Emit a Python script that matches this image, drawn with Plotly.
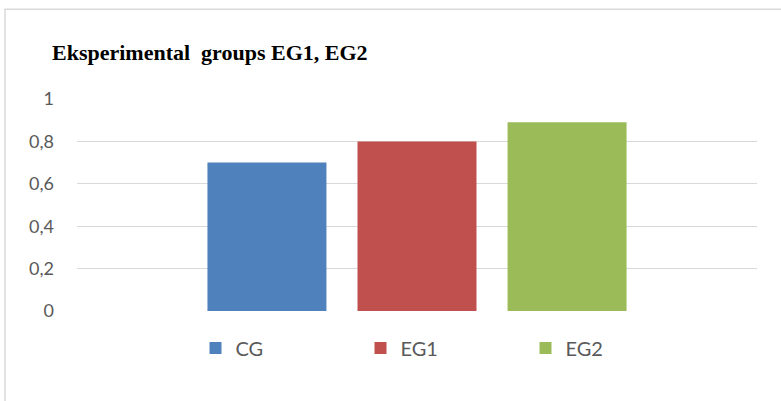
import plotly.graph_objects as go

series = ["CG", "EG1", "EG2"]
values = [0.70, 0.80, 0.89]
colors = ["#4F81BD", "#C0504D", "#9BBB59"]
category = [""]
tick_vals = [0, 0.2, 0.4, 0.6, 0.8, 1]
tick_text = ["0", "0,2", "0,4", "0,6", "0,8", "1"]

W, H = 781, 401
L, R, T, B = 77, 24, 98.5, 90
pw = W - L - R
ph = H - T - B

fig = go.Figure()
for name, v, c in zip(series, values, colors):
    fig.add_trace(go.Bar(x=category, y=[v], name=name, marker=dict(color=c, line=dict(width=0))))

fig.update_layout(
    width=W, height=H,
    margin=dict(l=L, r=R, t=T, b=B, autoexpand=False),
    paper_bgcolor="white", plot_bgcolor="white",
    barmode="group", bargap=0.338, bargroupgap=0.207,
    title=dict(text="<b>Eksperimental  groups EG1, EG2</b>",
               font=dict(family="Liberation Serif", size=22, color="black"),
               x=52 / W, xanchor="left", xref="container",
               y=1 - 52 / H, yanchor="middle", yref="container"),
    showlegend=True,
    legend=dict(orientation="h", x=0.5 + 26 / pw, xanchor="center", y=-(348 - (T + ph)) / ph, yanchor="middle",
                font=dict(family="Lato", size=20, color="#595959"),
                entrywidth=120, entrywidthmode="pixels", traceorder="normal"),
    xaxis=dict(showticklabels=False, showgrid=False, zeroline=False, showline=False, ticks=""),
    yaxis=dict(range=[0, 1], tickvals=tick_vals, ticktext=tick_text,
               showgrid=True, gridcolor="#D9D9D9", gridwidth=1.3,
               zeroline=False, showline=False, ticks="",
               ticklabelstandoff=22,
               tickfont=dict(family="Lato", size=18, color="#595959")),
    shapes=[dict(type="rect", xref="paper", yref="paper",
                 x0=(5 - L) / pw, x1=2, y0=-2, y1=1 + (T - 8.5) / ph,
                 line=dict(color="#D9D9D9", width=1.5), fillcolor="rgba(0,0,0,0)", layer="below")],
)

fig.write_html("out.html")
